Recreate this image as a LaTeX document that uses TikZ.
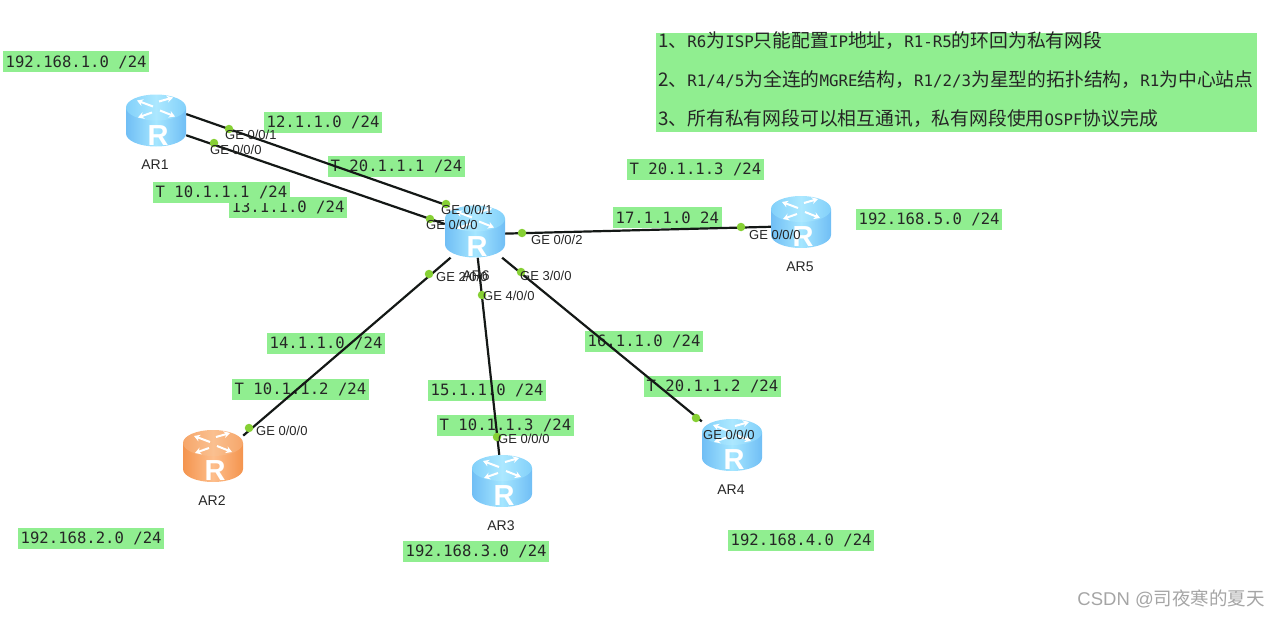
\documentclass[tikz,border=0pt]{standalone}
\usepackage{fontspec}
\setmainfont{Liberation Sans}
\newfontfamily\monof{DejaVu Sans Mono}
\newfontfamily\cjk{Noto Sans CJK SC}
\usetikzlibrary{arrows.meta,backgrounds}

\definecolor{labgreen}{RGB}{144,238,144}
\definecolor{portgreen}{RGB}{134,208,52}
\definecolor{linkblack}{RGB}{20,24,22}
\definecolor{wmgray}{RGB}{165,165,165}
\definecolor{blueside}{RGB}{112,190,245}
\definecolor{bluemid}{RGB}{165,230,255}
\definecolor{blueedge}{RGB}{130,208,250}
\definecolor{bluetop}{RGB}{172,232,255}
\definecolor{orangeside}{RGB}{244,148,78}
\definecolor{orangemid}{RGB}{253,190,140}
\definecolor{orangeedge}{RGB}{246,166,106}
\definecolor{orangetop}{RGB}{250,192,144}

\newcommand{\lat}[1]{{\monof\fontsize{15.8}{20}\selectfont #1}}

%% router: name, position, side, middle, rim and top colours
\newcommand{\router}[6]{%
	\node[routernd] (#1) at (#2) {};
	\begin{scope}[shift={(#1.center)}]
		\shade[left color=#3, right color=#3, middle color=#4]
			(-30,-13) -- (-30,13) arc[start angle=180, end angle=0, x radius=30, y radius=13]
			-- (30,-13) -- cycle;
		\shade[left color=#5, right color=#5, middle color=#6]
			(0,-13) ellipse[x radius=30, y radius=13];
		\foreach \ax/\ay/\bx/\by in {-3/-14/-19/-20, 3/-19/17/-23, 4/-10/19/-4, -4/-8/-18/-3}
			\draw[white, line width=2pt, -{Stealth[length=6pt,width=7pt]}] (\ax,\ay) -- (\bx,\by);
		\node[rletter] (#1r) at (2,24.5) {R};
	\end{scope}}

\begin{document}
\begin{tikzpicture}[
		x=1pt, y=-1pt,
		routernd/.style={rectangle, inner sep=0pt, minimum width=60pt, minimum height=52pt},
		rletter/.style={anchor=base, inner sep=0pt, text=white, font=\bfseries\fontsize{29}{29}\selectfont},
		greenlab/.style={fill=labgreen, anchor=west, inner xsep=2.5pt, inner ysep=0pt,
			minimum height=21pt, text=black!85, font=\monof\fontsize{15.6}{17}\selectfont},
		notebox/.style={fill=labgreen, anchor=north west, inner sep=0pt,
			minimum width=601pt, minimum height=99pt},
		notend/.style={anchor=west, inner sep=0pt, text=black!85, font=\cjk\fontsize{18.8}{22}\selectfont},
		portdot/.style={circle, fill=portgreen, inner sep=0pt, minimum size=8.5pt},
		portlab/.style={anchor=west, inner sep=0pt, text=black!85, font=\fontsize{13}{15}\selectfont},
		namelab/.style={inner sep=0pt, text=black!85, font=\fontsize{14}{16}\selectfont},
		link/.style={line width=2.2pt, linkblack},
		wmark/.style={anchor=east, inner sep=0pt, text=wmgray, font=\fontsize{18.5}{21}\selectfont},
		]
		\useasboundingbox (0,0) rectangle (1280,618);
		
		%% ── Routers ──────────────────────────────────────────────────────────────
		\router{ar1}{156,120.5}{blueside}{bluemid}{blueedge}{bluetop}
		\router{ar6}{475,231.5}{blueside}{bluemid}{blueedge}{bluetop}
		\router{ar2}{213,456}{orangeside}{orangemid}{orangeedge}{orangetop}
		\router{ar3}{502,481}{blueside}{bluemid}{blueedge}{bluetop}
		\router{ar4}{732,445}{blueside}{bluemid}{blueedge}{bluetop}
		\router{ar5}{801,222}{blueside}{bluemid}{blueedge}{bluetop}
		
		\begin{scope}[on background layer]
			%% ── Address labels ───────────────────────────────────────────────────
			\node[greenlab] (net1) at (3,62) {192.168.1.0 /24};
			\node[greenlab] (net12) at (264,122) {12.1.1.0 /24};
			\node[greenlab] (tun20a) at (328,166.5) {T 20.1.1.1 /24};
			\node[greenlab] (net13) at (229,207) {13.1.1.0 /24};
			\node[greenlab] (tun10a) at (153,192.5) {T 10.1.1.1 /24};
			\node[greenlab] (tun20c) at (627,169.5) {T 20.1.1.3 /24};
			\node[greenlab] (net17) at (613,217.5) {17.1.1.0 24};
			\node[greenlab] (net5) at (856,219.5) {192.168.5.0 /24};
			\node[greenlab] (net14) at (267,343.5) {14.1.1.0 /24};
			\node[greenlab] (tun10b) at (232,389.5) {T 10.1.1.2 /24};
			\node[greenlab] (net15) at (428,390.5) {15.1.1.0 /24};
			\node[greenlab] (tun10c) at (437,425.5) {T 10.1.1.3 /24};
			\node[greenlab] (net16) at (585,341.5) {16.1.1.0 /24};
			\node[greenlab] (tun20b) at (644,386) {T 20.1.1.2 /24};
			\node[greenlab] (net2) at (18,538.5) {192.168.2.0 /24};
			\node[greenlab] (net3) at (403,551.5) {192.168.3.0 /24};
			\node[greenlab] (net4) at (728,540.5) {192.168.4.0 /24};
			
			%% ── Links ────────────────────────────────────────────────────────────
			\draw[link] (ar1.12) -- (ar6.137.5);
			\draw[link] (ar1.-26) -- (ar6.166);
			\draw[link] (ar6.-4.8) -- (ar5.189.5);
			\draw[link] (ar6.227.5) -- (ar2.34);
			\draw[link] (ar6.276.6) -- (ar3.96.6);
			\draw[link] (ar6.-44.3) -- (ar4.142.5);
		\end{scope}
		
		%% ── Port markers ─────────────────────────────────────────────────────────
		\node[portdot] (p1a) at (229,129) {};
		\node[portdot] (p1b) at (214,143) {};
		\node[portdot] (p6a) at (446,204) {};
		\node[portdot] (p6b) at (430,219) {};
		\node[portdot] (p6c) at (522,233) {};
		\node[portdot] (p6d) at (429,274) {};
		\node[portdot] (p6e) at (521,272) {};
		\node[portdot] (p6f) at (482,295) {};
		\node[portdot] (p5) at (741,227) {};
		\node[portdot] (p2) at (249,428) {};
		\node[portdot] (p3) at (497,437) {};
		\node[portdot] (p4) at (696,418) {};
		
		%% ── Port names ───────────────────────────────────────────────────────────
		\node[portlab] (g1a) at (225,134.7) {GE 0/0/1};
		\node[portlab] (g1b) at (210,149.7) {GE 0/0/0};
		\node[portlab] (g6a) at (441,209.7) {GE 0/0/1};
		\node[portlab] (g6b) at (426,224.7) {GE 0/0/0};
		\node[portlab] (g6c) at (531,239.7) {GE 0/0/2};
		\node[portlab] (g6d) at (436,276.7) {GE 2/0/0};
		\node[portlab] (g6e) at (520,275.7) {GE 3/0/0};
		\node[portlab] (g6f) at (483,295.7) {GE 4/0/0};
		\node[portlab] (g5) at (749,234.7) {GE 0/0/0};
		\node[portlab] (g2) at (256,430.7) {GE 0/0/0};
		\node[portlab] (g3) at (498,438.7) {GE 0/0/0};
		\node[portlab] (g4) at (703,434.7) {GE 0/0/0};
		
		%% ── Router names ─────────────────────────────────────────────────────────
		\node[namelab] (n1) at (155,165) {AR1};
		\node[namelab] (n6) at (476,276) {AR6};
		\node[namelab] (n2) at (212,501) {AR2};
		\node[namelab] (n3) at (501,526) {AR3};
		\node[namelab] (n4) at (731,490) {AR4};
		\node[namelab] (n5) at (800,267) {AR5};
		
		%% ── Notes ────────────────────────────────────────────────────────────────
		\begin{scope}[on background layer]
			\node[notebox] (notes) at (656,33) {};
		\end{scope}
		\node[notend] (note1) at (658,41) {1、\lat{R6}为\lat{ISP}只能配置\lat{IP}地址，\lat{R1-R5}的环回为私有网段};
		\node[notend] (note2) at (658,80) {2、\lat{R1/4/5}为全连的\lat{MGRE}结构，\lat{R1/2/3}为星型的拓扑结构，\lat{R1}为中心站点};
		\node[notend] (note3) at (658,119) {3、所有私有网段可以相互通讯，私有网段使用\lat{OSPF}协议完成};
		
		%% ── Watermark ────────────────────────────────────────────────────────────
		\node[wmark] (wm) at (1265,599) {CSDN @{\cjk 司夜寒的夏天}};
	\end{tikzpicture}
\end{document}
